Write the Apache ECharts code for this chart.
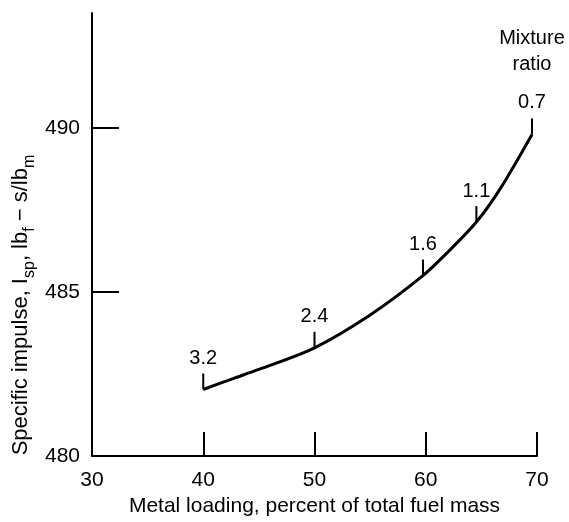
<!DOCTYPE html>
<html>
<head>
<meta charset="utf-8">
<script src="https://cdn.jsdelivr.net/npm/echarts@6/dist/echarts.min.js"></script>
<style>html,body{margin:0;padding:0;background:#fff}#c{width:569px;height:522px}</style>
</head>
<body>
<div id="c"></div>
<script>
// Curve: metal loading (%) vs specific impulse
const curveX = [40, 42.5, 45, 50, 55, 59.75, 62, 64.55, 66.7, 69.55];
const curveY = [482.03, 482.34, 482.64, 483.30, 484.30, 485.50, 486.22, 487.13, 488.15, 489.80];
// Mixture ratio markers on the curve
const markX = [40, 50, 59.75, 64.55, 69.55];
const markY = [482.03, 483.30, 485.50, 487.13, 489.80];
const markLabels = ['3.2', '2.4', '1.6', '1.1', '0.7'];
// Axis ticks
const xTickLabels = [30, 40, 50, 60, 70];
const xTicks = [40, 50, 60, 70];
const yTickLabels = [480, 485, 490];
const yTicks = [485, 490];

const FONT = '"Liberation Sans", Arial, sans-serif';
const chart = echarts.init(document.getElementById('c'), null, {renderer: 'canvas'});

const markData = markX.map((x, i) => {
  const item = {value: [x, markY[i]], name: markLabels[i]};
  if (i === markX.length - 1) {
    item.label = {
      formatter: '{t|Mixture}\n{t|ratio}\n{g|}\n{n|' + markLabels[i] + '}'
    };
  }
  return item;
});

chart.setOption({
  animation: false,
  backgroundColor: '#fff',
  grid: {left: 92, right: 32, top: 13, bottom: 64, containLabel: false},
  xAxis: {
    type: 'value', min: 30, max: 70, interval: 10,
    name: 'Metal loading, percent of total fuel mass',
    nameLocation: 'middle', nameGap: 30,
    nameTextStyle: {fontFamily: FONT, fontSize: 21, color: '#000'},
    axisLine: {show: true, lineStyle: {color: '#000', width: 2}},
    axisTick: {show: true, inside: true, length: 24, customValues: xTicks, lineStyle: {color: '#000', width: 2}},
    axisLabel: {show: true, customValues: xTickLabels, margin: 14, fontFamily: FONT, fontSize: 21, color: '#000'},
    splitLine: {show: false}
  },
  yAxis: {
    type: 'value', min: 480, max: 493.5,
    axisLine: {show: true, lineStyle: {color: '#000', width: 2}},
    axisTick: {show: true, inside: true, length: 27, customValues: yTicks, lineStyle: {color: '#000', width: 2}},
    axisLabel: {show: true, customValues: yTickLabels, margin: 12, fontFamily: FONT, fontSize: 21, color: '#000'},
    splitLine: {show: false}
  },
  graphic: [{
    type: 'text',
    x: 23, y: 305,
    rotation: Math.PI / 2,
    style: {
      text: '{n|Specific impulse, I}{s|sp}{n|, lb}{s|f}{n| − s/lb}{s|m}',
      rich: {
        n: {fontFamily: FONT, fontSize: 22, color: '#000', lineHeight: 30, verticalAlign: 'top', padding: [2, 0, 0, 0]},
        s: {fontFamily: FONT, fontSize: 16, color: '#000', lineHeight: 30, verticalAlign: 'bottom'}
      },
      align: 'center', verticalAlign: 'middle'
    }
  }],
  series: [{
    type: 'line',
    data: curveX.map((x, i) => [x, curveY[i]]),
    smooth: 0.3,
    showSymbol: false,
    lineStyle: {color: '#000', width: 3},
    z: 3
  }, {
    type: 'scatter',
    data: markData,
    symbol: 'rect',
    symbolSize: [2, 16],
    symbolOffset: [0, -8],
    itemStyle: {color: '#000', opacity: 1},
    label: {
      show: true, position: 'top', distance: 5,
      formatter: '{b}',
      fontFamily: FONT, fontSize: 20, color: '#000', textBorderWidth: 0,
      rich: {
        t: {fontFamily: FONT, fontSize: 20, color: '#000', lineHeight: 26},
        g: {fontSize: 10, lineHeight: 14},
        n: {fontFamily: FONT, fontSize: 20, color: '#000', lineHeight: 22}
      }
    },
    z: 4
  }]
});
</script>
</body>
</html>
